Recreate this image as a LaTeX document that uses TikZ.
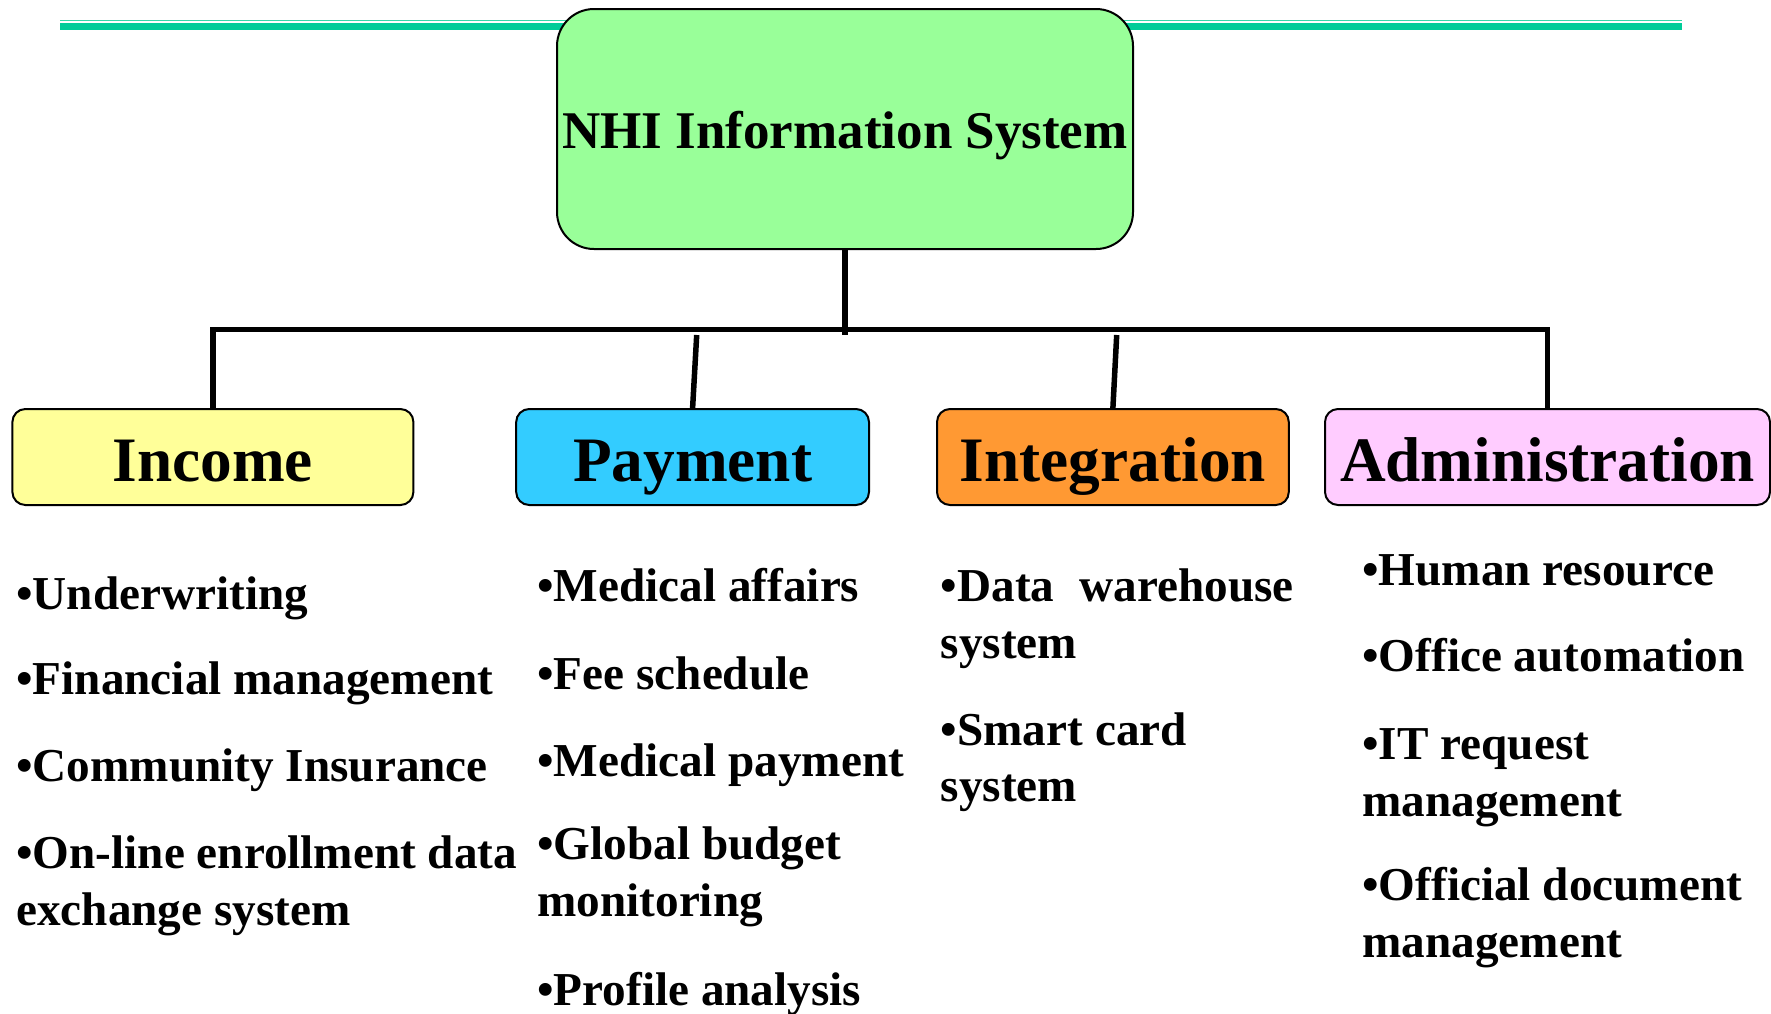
\documentclass[tikz,border=0pt]{standalone}
\usepackage{fontspec}
\setmainfont{Liberation Serif}
\definecolor{nhigreen}{HTML}{99FF99}
\definecolor{incyellow}{HTML}{FFFF99}
\definecolor{payblue}{HTML}{33CCFF}
\definecolor{intorange}{HTML}{FF9933}
\definecolor{admpink}{HTML}{FFCCFF}
\definecolor{tealline}{HTML}{00CC99}
\definecolor{teallight}{HTML}{33D6A8}
\begin{document}
\begin{tikzpicture}[x=0.5pt,y=-0.5pt,
  conn/.style={line width=2.75pt},
  catbox/.style={draw, line width=1pt, rounded corners=6.5pt, minimum height=48pt,
    inner sep=0pt, text height=24pt, text depth=0pt,
    font=\fontsize{31.65}{38}\selectfont\bfseries},
  item/.style={anchor=base west, inner sep=0pt, align=left,
    font=\fontsize{23.6}{28.35}\selectfont\bfseries}
]
\useasboundingbox (0,0) rectangle (1771,1013);
% teal header rule
\coordinate (ruleL1) at (60,20.7);
\coordinate (ruleR1) at (1682,20.7);
\coordinate (ruleL2) at (60,26.4);
\coordinate (ruleR2) at (1682,26.4);
\draw[teallight, line width=0.65pt] (ruleL1) -- (ruleR1);
\draw[tealline, line width=3.5pt] (ruleL2) -- (ruleR2);
% root
\node[draw, line width=1pt, fill=nhigreen, rounded corners=18.5pt,
  minimum width=288pt, minimum height=120pt, inner sep=0pt,
  text height=19pt, text depth=0pt,
  font=\fontsize{26.5}{32}\selectfont\bfseries] (nhi) at (845,129) {NHI Information System};
% categories
\node[catbox, fill=incyellow, minimum width=200.5pt] (inc) at (212.9,457) {Income};
\node[catbox, fill=payblue, minimum width=176.4pt] (pay) at (692.6,457) {Payment};
\node[catbox, fill=intorange, minimum width=175.9pt] (int) at (1112.9,457) {Integration};
\node[catbox, fill=admpink, minimum width=222.5pt] (adm) at (1547.5,457) {Administration};
% connectors
\coordinate (bus) at (845,329.5);
\coordinate (hub) at (845,335);
\coordinate (payTop) at (696.7,335);
\coordinate (intTop) at (1116.7,335);
\draw[conn] (nhi.south) -- (hub);
\draw[conn] (inc.north) -- (inc.north |- bus) -- (adm.north |- bus) -- (adm.north);
\draw[conn] (payTop) -- (pay.north);
\draw[conn] (intTop) -- (int.north);
% Income items (multi-line nodes: base = last line)
\node[item] (i1) at (16,609) {•Underwriting};
\node[item] (i2) at (16,694) {•Financial management};
\node[item] (i3) at (16,781) {•Community Insurance};
\node[item] (i4) at (16,925) {•On-line enrollment data\\exchange system};
% Payment items
\node[item] (p1) at (537,601) {•Medical affairs};
\node[item] (p2) at (537,689) {•Fee schedule};
\node[item] (p3) at (537,776) {•Medical payment};
\node[item] (p4) at (537,916) {•Global budget\\monitoring};
\node[item] (p5) at (537,1005) {•Profile analysis};
% Integration items
\node[item] (n1) at (940.5,658.3) {\makebox[176.5pt][s]{•Data warehouse}\\system};
\node[item] (n2) at (940.5,801.7) {•Smart card\\system};
% Administration items
\node[item] (a1) at (1362,585) {•Human resource};
\node[item] (a2) at (1362,671) {•Office automation};
\node[item] (a3) at (1362,816) {•IT request\\management};
\node[item] (a4) at (1362,957) {•Official document\\management};
\end{tikzpicture}
\end{document}
